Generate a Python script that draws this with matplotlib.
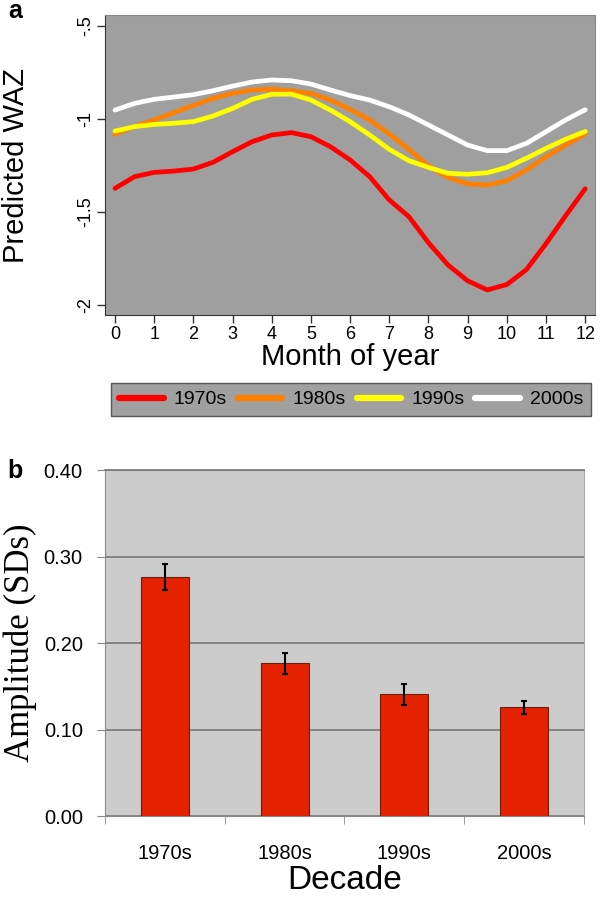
import numpy as np
import matplotlib
matplotlib.use('Agg')
import matplotlib.pyplot as plt

plt.rcParams['font.family'] = ['Liberation Sans', 'DejaVu Sans']

months = np.arange(0, 12.5, 0.5)
waz_1970s = [-1.373, -1.310, -1.287, -1.280, -1.269, -1.233, -1.176, -1.122, -1.086, -1.073,
             -1.095, -1.149, -1.220, -1.310, -1.435, -1.525, -1.665, -1.785, -1.870, -1.919,
             -1.890, -1.810, -1.670, -1.520, -1.375]
waz_1980s = [-1.081, -1.041, -1.005, -0.966, -0.927, -0.889, -0.862, -0.844, -0.839, -0.848,
             -0.862, -0.898, -0.948, -1.005, -1.081, -1.163, -1.253, -1.314, -1.349, -1.355,
             -1.332, -1.274, -1.203, -1.140, -1.081]
waz_1990s = [-1.065, -1.041, -1.029, -1.023, -1.014, -0.984, -0.943, -0.894, -0.867, -0.866,
             -0.898, -0.952, -1.014, -1.086, -1.163, -1.224, -1.260, -1.292, -1.297, -1.289,
             -1.260, -1.211, -1.158, -1.109, -1.067]
waz_2000s = [-0.952, -0.916, -0.894, -0.882, -0.869, -0.848, -0.823, -0.801, -0.790, -0.794,
             -0.812, -0.844, -0.874, -0.898, -0.934, -0.978, -1.032, -1.086, -1.140, -1.170,
             -1.170, -1.131, -1.068, -1.005, -0.950]
decades = ['1970s', '1980s', '1990s', '2000s']
line_colors = ['#ff0000', '#ff8000', '#ffff00', '#ffffff']

# panel b: amplitude per decade
amplitude = [0.276, 0.1765, 0.1405, 0.126]
amp_err = [0.015, 0.012, 0.0125, 0.0075]

fig = plt.figure(figsize=(6, 8.97), dpi=100)

# ---- panel a
ax1 = fig.add_axes([0.175, 0.6488, 0.8167, 0.3344])
ax1.set_facecolor('#9f9f9f')
for vals, c, lab in zip([waz_1970s, waz_1980s, waz_1990s, waz_2000s], line_colors, decades):
    ax1.plot(months, vals, color=c, lw=3.4, label=lab,
             solid_capstyle='round', solid_joinstyle='round')
ax1.set_xlim(-0.254, 12.25)
ax1.set_ylim(-2.054, -0.441)
ax1.set_xticks(range(13))
ax1.set_yticks([-2, -1.5, -1, -0.5])
ax1.set_yticklabels(['-2', '-1.5', '-1', '-.5'], rotation=90, va='center')
ax1.tick_params(labelsize=13, length=6, width=1, pad=2, color='#333333')
for s in ['left', 'bottom']:
    ax1.spines[s].set_color('#333333')
for s in ['top', 'right']:
    ax1.spines[s].set_color('#888888')
    ax1.spines[s].set_linewidth(0.8)
ax1.set_xlabel('Month of year', fontsize=21)
ax1.xaxis.set_label_coords(0.5, -0.093)
ax1.set_ylabel('Predicted WAZ', fontsize=21)
ax1.yaxis.set_label_coords(-0.154, 0.5)

handles, labels = ax1.get_legend_handles_labels()
leg = fig.legend(handles, labels, loc='center',
                 bbox_to_anchor=(111/600, 1-417/897, 480/600, 35/897),
                 mode='expand', ncol=4, fontsize=14, facecolor='#a0a0a0',
                 edgecolor='#555555', framealpha=1, fancybox=False,
                 handlelength=2.3, handletextpad=0.5, borderaxespad=0)
for h in leg.get_lines():
    h.set_linewidth(4.5)

# ---- panel b
ax2 = fig.add_axes([0.175, 0.0903, 0.7983, 0.3857])
ax2.set_facecolor('#cccccc')
x = np.arange(len(decades))
ax2.bar(x, amplitude, width=0.4, color='#e52200', edgecolor='#6a2010', lw=0.8, zorder=3)
ax2.errorbar(x, amplitude, yerr=amp_err, fmt='none', ecolor='black',
             elinewidth=1.5, capsize=2.5, capthick=1.5, zorder=4)
ax2.set_xlim(-0.5, 3.5)
ax2.set_ylim(0, 0.4)
ax2.set_yticks([0, 0.1, 0.2, 0.3, 0.4])
ax2.set_yticklabels(['0.00', '0.10', '0.20', '0.30', '0.40'])
ax2.grid(axis='y', color='#777777', lw=1.2, zorder=1)
ax2.set_xticks(x)
ax2.set_xticklabels(decades)
ax2.set_xticks(np.arange(-0.5, 4, 1), minor=True)
ax2.tick_params(axis='x', which='major', length=0, pad=20, labelsize=14.5)
ax2.tick_params(axis='x', which='minor', length=6, color='#888888')
ax2.tick_params(axis='y', length=6, color='#888888', pad=10, labelsize=14.5)
for s in ['left', 'bottom']:
    ax2.spines[s].set_color('#888888')
ax2.spines['top'].set_color('#777777')
ax2.spines['top'].set_linewidth(1.2)
ax2.spines['right'].set_color('#aaaaaa')
ax2.set_xlabel('Decade', fontsize=24)
ax2.xaxis.set_label_coords(0.5, -0.141)
ax2.set_ylabel('Amplitude (SDs)', fontsize=25, family=['Liberation Serif', 'DejaVu Serif'])
ax2.yaxis.set_label_coords(-0.143, 0.5)

fig.text(8/600, 1-18/897, 'a', fontsize=18, weight='bold', va='baseline')
fig.text(7/600, 1-478/897, 'b', fontsize=18, weight='bold', va='baseline')

fig.savefig('out.png', dpi=100)
